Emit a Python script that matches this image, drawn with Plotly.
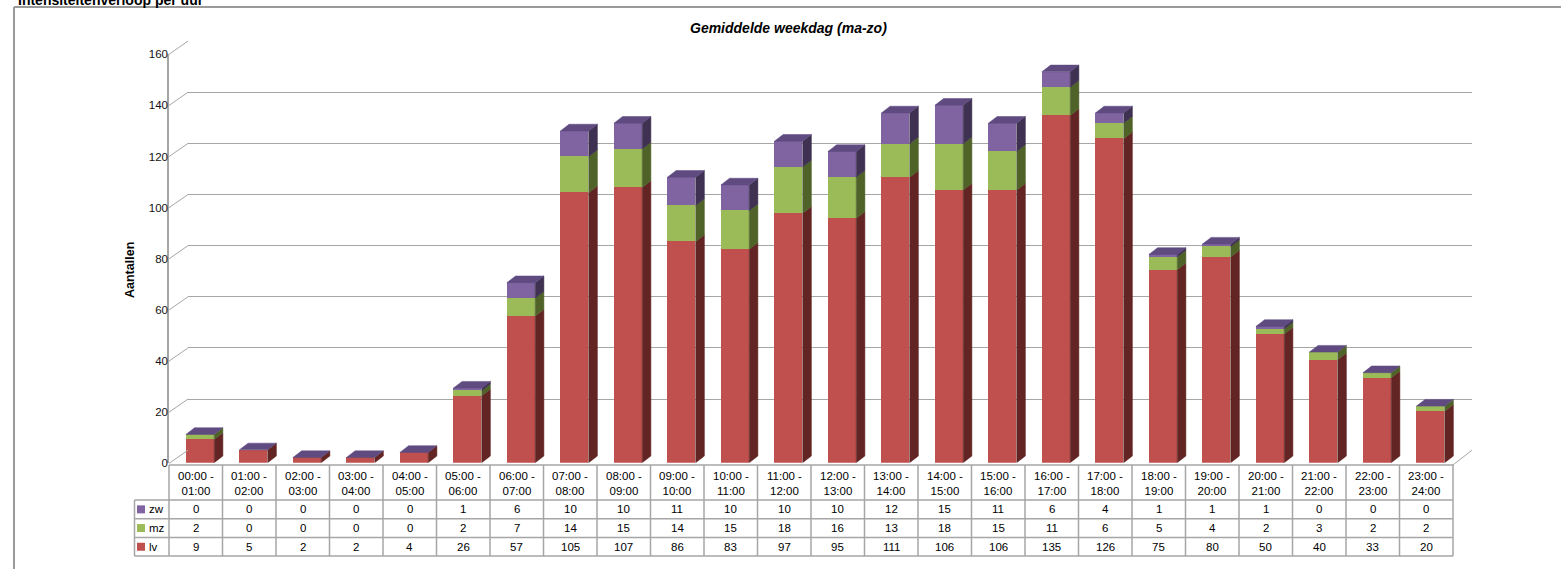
import plotly.graph_objects as go

# ---- data -------------------------------------------------------------
periods = [
    "00:00 -<br>01:00", "01:00 -<br>02:00", "02:00 -<br>03:00", "03:00 -<br>04:00",
    "04:00 -<br>05:00", "05:00 -<br>06:00", "06:00 -<br>07:00", "07:00 -<br>08:00",
    "08:00 -<br>09:00", "09:00 -<br>10:00", "10:00 -<br>11:00", "11:00 -<br>12:00",
    "12:00 -<br>13:00", "13:00 -<br>14:00", "14:00 -<br>15:00", "15:00 -<br>16:00",
    "16:00 -<br>17:00", "17:00 -<br>18:00", "18:00 -<br>19:00", "19:00 -<br>20:00",
    "20:00 -<br>21:00", "21:00 -<br>22:00", "22:00 -<br>23:00", "23:00 -<br>24:00",
]
lv = [9, 5, 2, 2, 4, 26, 57, 105, 107, 86, 83, 97, 95, 111, 106, 106, 135, 126, 75, 80, 50, 40, 33, 20]
mz = [2, 0, 0, 0, 0, 2, 7, 14, 15, 14, 15, 18, 16, 13, 18, 15, 11, 6, 5, 4, 2, 3, 2, 2]
zw = [0, 0, 0, 0, 0, 1, 6, 10, 10, 11, 10, 10, 10, 12, 15, 11, 6, 4, 1, 1, 1, 0, 0, 0]
y_ticks = [0, 20, 40, 60, 80, 100, 120, 140, 160]

series = [  # bottom to top
    ("lv", lv, "#C0504D", "#632523"),
    ("mz", mz, "#9BBB59", "#4F6228"),
    ("zw", zw, "#8064A2", "#3F3151"),
]
TOP_COLOR = "#5F4B80"

# ---- page geometry (pixels) ------------------------------------------
W, H = 1561, 569
PL, PR = 169, 1453            # front plane, left/right
Y0, Y160 = 463.4, 54.3        # front plane, value 0 / 160
DX, DY = 19, 13.2             # depth of the back wall
BSX = 4.3                     # bar front face shift
BY0, BY160 = 462.7, 51.2      # bar plane, value 0 / 160
SIDE_DX, SIDE_DY = 8.7, 6.7   # bar side/top depth
BAR_W = 28.3
YMAX = 160
GRID = "#a6a6a6"
FONT = "Liberation Sans, Arial, sans-serif"
TXT = 11.5

n = len(periods)
col_w = (PR - PL) / n


def fx(p):
    return p / W


def fy(p):
    return 1 - p / H


def yf(v):
    return Y0 - (Y0 - Y160) * v / YMAX


fig = go.Figure()

# ---- front faces of the stacked bars ---------------------------------
idx = list(range(n))
for name, vals, face, side in series:
    fig.add_trace(go.Bar(
        x=idx, y=vals, name=name, xaxis="x2", yaxis="y2",
        width=BAR_W / col_w, marker=dict(color=face, line=dict(width=0)),
        showlegend=False, hoverinfo="skip",
    ))

# ---- side and top faces (3D look) ------------------------------------
ddx = SIDE_DX / col_w
ddy = SIDE_DY / ((BY0 - BY160) / YMAX)
hw = BAR_W / col_w / 2
base = [0] * n
for name, vals, face, side in series:
    xs, ys = [], []
    for i in range(n):
        b, t = base[i], base[i] + vals[i]
        if t > b:
            xr = i + hw
            xs += [xr, xr + ddx, xr + ddx, xr, xr, None]
            ys += [b, b + ddy, t + ddy, t, b, None]
        base[i] = t
    fig.add_trace(go.Scatter(
        x=xs, y=ys, xaxis="x2", yaxis="y2", mode="lines", fill="toself",
        fillcolor=side, line=dict(color=side, width=0.5),
        showlegend=False, hoverinfo="skip",
    ))
xs, ys = [], []
for i in range(n):
    t = base[i]
    xl, xr = i - hw, i + hw
    xs += [xl, xr, xr + ddx, xl + ddx, xl, None]
    ys += [t, t, t + ddy, t + ddy, t, None]
fig.add_trace(go.Scatter(
    x=xs, y=ys, xaxis="x2", yaxis="y2", mode="lines", fill="toself",
    fillcolor=TOP_COLOR, line=dict(color=TOP_COLOR, width=0.5),
    showlegend=False, hoverinfo="skip",
))

# empty traces so the back-wall and front-axis subplots are created
fig.add_trace(go.Scatter(x=[], y=[], xaxis="x", yaxis="y", showlegend=False))
fig.add_trace(go.Scatter(x=[], y=[], xaxis="x3", yaxis="y3", showlegend=False))

hidden = dict(visible=False, range=[-0.5, n - 0.5], fixedrange=True)
fig.update_layout(
    width=W, height=H,
    margin=dict(l=0, r=0, t=0, b=0, pad=0, autoexpand=False),
    showlegend=False,
    paper_bgcolor="white", plot_bgcolor="rgba(0,0,0,0)",
    barmode="stack", bargap=0,
    font=dict(family=FONT, size=TXT, color="#000"),
    # back wall with gridlines
    xaxis=dict(domain=[fx(PL + DX), fx(PR + DX)], anchor="y", **hidden),
    yaxis=dict(domain=[fy(Y0 - DY), fy(Y160 - DY)], anchor="x", range=[0, YMAX],
               tickvals=y_ticks, showgrid=True, gridcolor=GRID, gridwidth=1,
               zeroline=False, showline=False, showticklabels=False, ticks="",
               automargin=False),
    # bars
    xaxis2=dict(domain=[fx(PL + BSX), fx(PR + BSX)], anchor="y2", **hidden),
    yaxis2=dict(domain=[fy(BY0), fy(BY160)], anchor="x2", range=[0, YMAX],
                visible=False, automargin=False),
    # front value axis
    xaxis3=dict(domain=[fx(PL), fx(PR)], anchor="y3", **hidden),
    yaxis3=dict(domain=[fy(Y0), fy(Y160)], anchor="x3", range=[0, YMAX],
                tickvals=y_ticks, showgrid=False, zeroline=False,
                showline=True, linecolor=GRID, linewidth=1.5, ticks="",
                ticklabelstandoff=-3, automargin=False,
                tickfont=dict(family=FONT, size=TXT, color="#111")),
)

shapes = []


def line(x0, y0, x1, y1, w=1.2, c=GRID):
    shapes.append(dict(type="line", xref="paper", yref="paper",
                       x0=fx(x0), y0=fy(y0), x1=fx(x1), y1=fy(y1),
                       line=dict(color=c, width=w)))


# connectors from the value axis to the back wall
for v in y_ticks:
    line(PL, yf(v), PL + DX, yf(v) - DY, w=1)
line(PR, yf(0) + 1.5, PR + DX, yf(0) - DY, w=1)

# outer frame
line(14, 7, W, 7, w=2, c="#9a9a9a")
line(14, 7, 14, H, w=2, c="#9a9a9a")

# data table
T_TOP = 465
T_HEAD = 500
row_h = 18.7
T_LEFT = 134.5
rows = [("zw", zw, "#8064A2"), ("mz", mz, "#9BBB59"), ("lv", lv, "#C0504D")]
T_BOT = T_HEAD + row_h * len(rows)
line(PL, T_TOP, PR, T_TOP, w=1.5)
for k in range(len(rows) + 1):
    line(T_LEFT, T_HEAD + k * row_h, PR, T_HEAD + k * row_h, w=1.5)
line(T_LEFT, T_HEAD, T_LEFT, T_BOT, w=1.5)
for j in range(n + 1):
    line(PL + j * col_w, T_TOP, PL + j * col_w, T_BOT, w=1.5)

annotations = []
for j, lab in enumerate(periods):
    annotations.append(dict(
        x=fx(PL + (j + 0.5) * col_w), y=fy(483), xref="paper", yref="paper",
        text=lab, showarrow=False, xanchor="center", yanchor="middle",
        font=dict(size=TXT, color="#000")))
for k, (name, vals, color) in enumerate(rows):
    yc = T_HEAD + (k + 0.5) * row_h
    shapes.append(dict(type="rect", xref="paper", yref="paper",
                       x0=fx(137), x1=fx(145), y0=fy(yc - 4), y1=fy(yc + 4),
                       fillcolor=color, line=dict(width=0)))
    annotations.append(dict(
        x=fx(146.5), y=fy(yc), xref="paper", yref="paper", text=name,
        showarrow=False, xanchor="left", yanchor="middle",
        font=dict(size=TXT, color="#000")))
    for j, v in enumerate(vals):
        annotations.append(dict(
            x=fx(PL + (j + 0.5) * col_w), y=fy(yc), xref="paper", yref="paper",
            text=str(v), showarrow=False, xanchor="center", yanchor="middle",
            font=dict(size=TXT, color="#000")))

# titles
annotations.append(dict(
    x=fx(789), y=fy(28), xref="paper", yref="paper",
    text="<b><i>Gemiddelde weekdag (ma-zo)</i></b>", showarrow=False,
    xanchor="center", yanchor="middle", font=dict(size=14, color="#000")))
annotations.append(dict(
    x=fx(130), y=fy(270), xref="paper", yref="paper",
    text="<b>Aantallen</b>", showarrow=False, textangle=-90,
    xanchor="center", yanchor="middle", font=dict(size=12.5, color="#000")))
annotations.append(dict(
    x=fx(16), y=fy(10), xref="paper", yref="paper",
    text="<b>Intensiteitenverloop per uur</b>", showarrow=False,
    xanchor="left", yanchor="bottom", font=dict(size=14, color="#000")))

fig.update_layout(shapes=shapes, annotations=annotations)
fig.write_html("out.html")
